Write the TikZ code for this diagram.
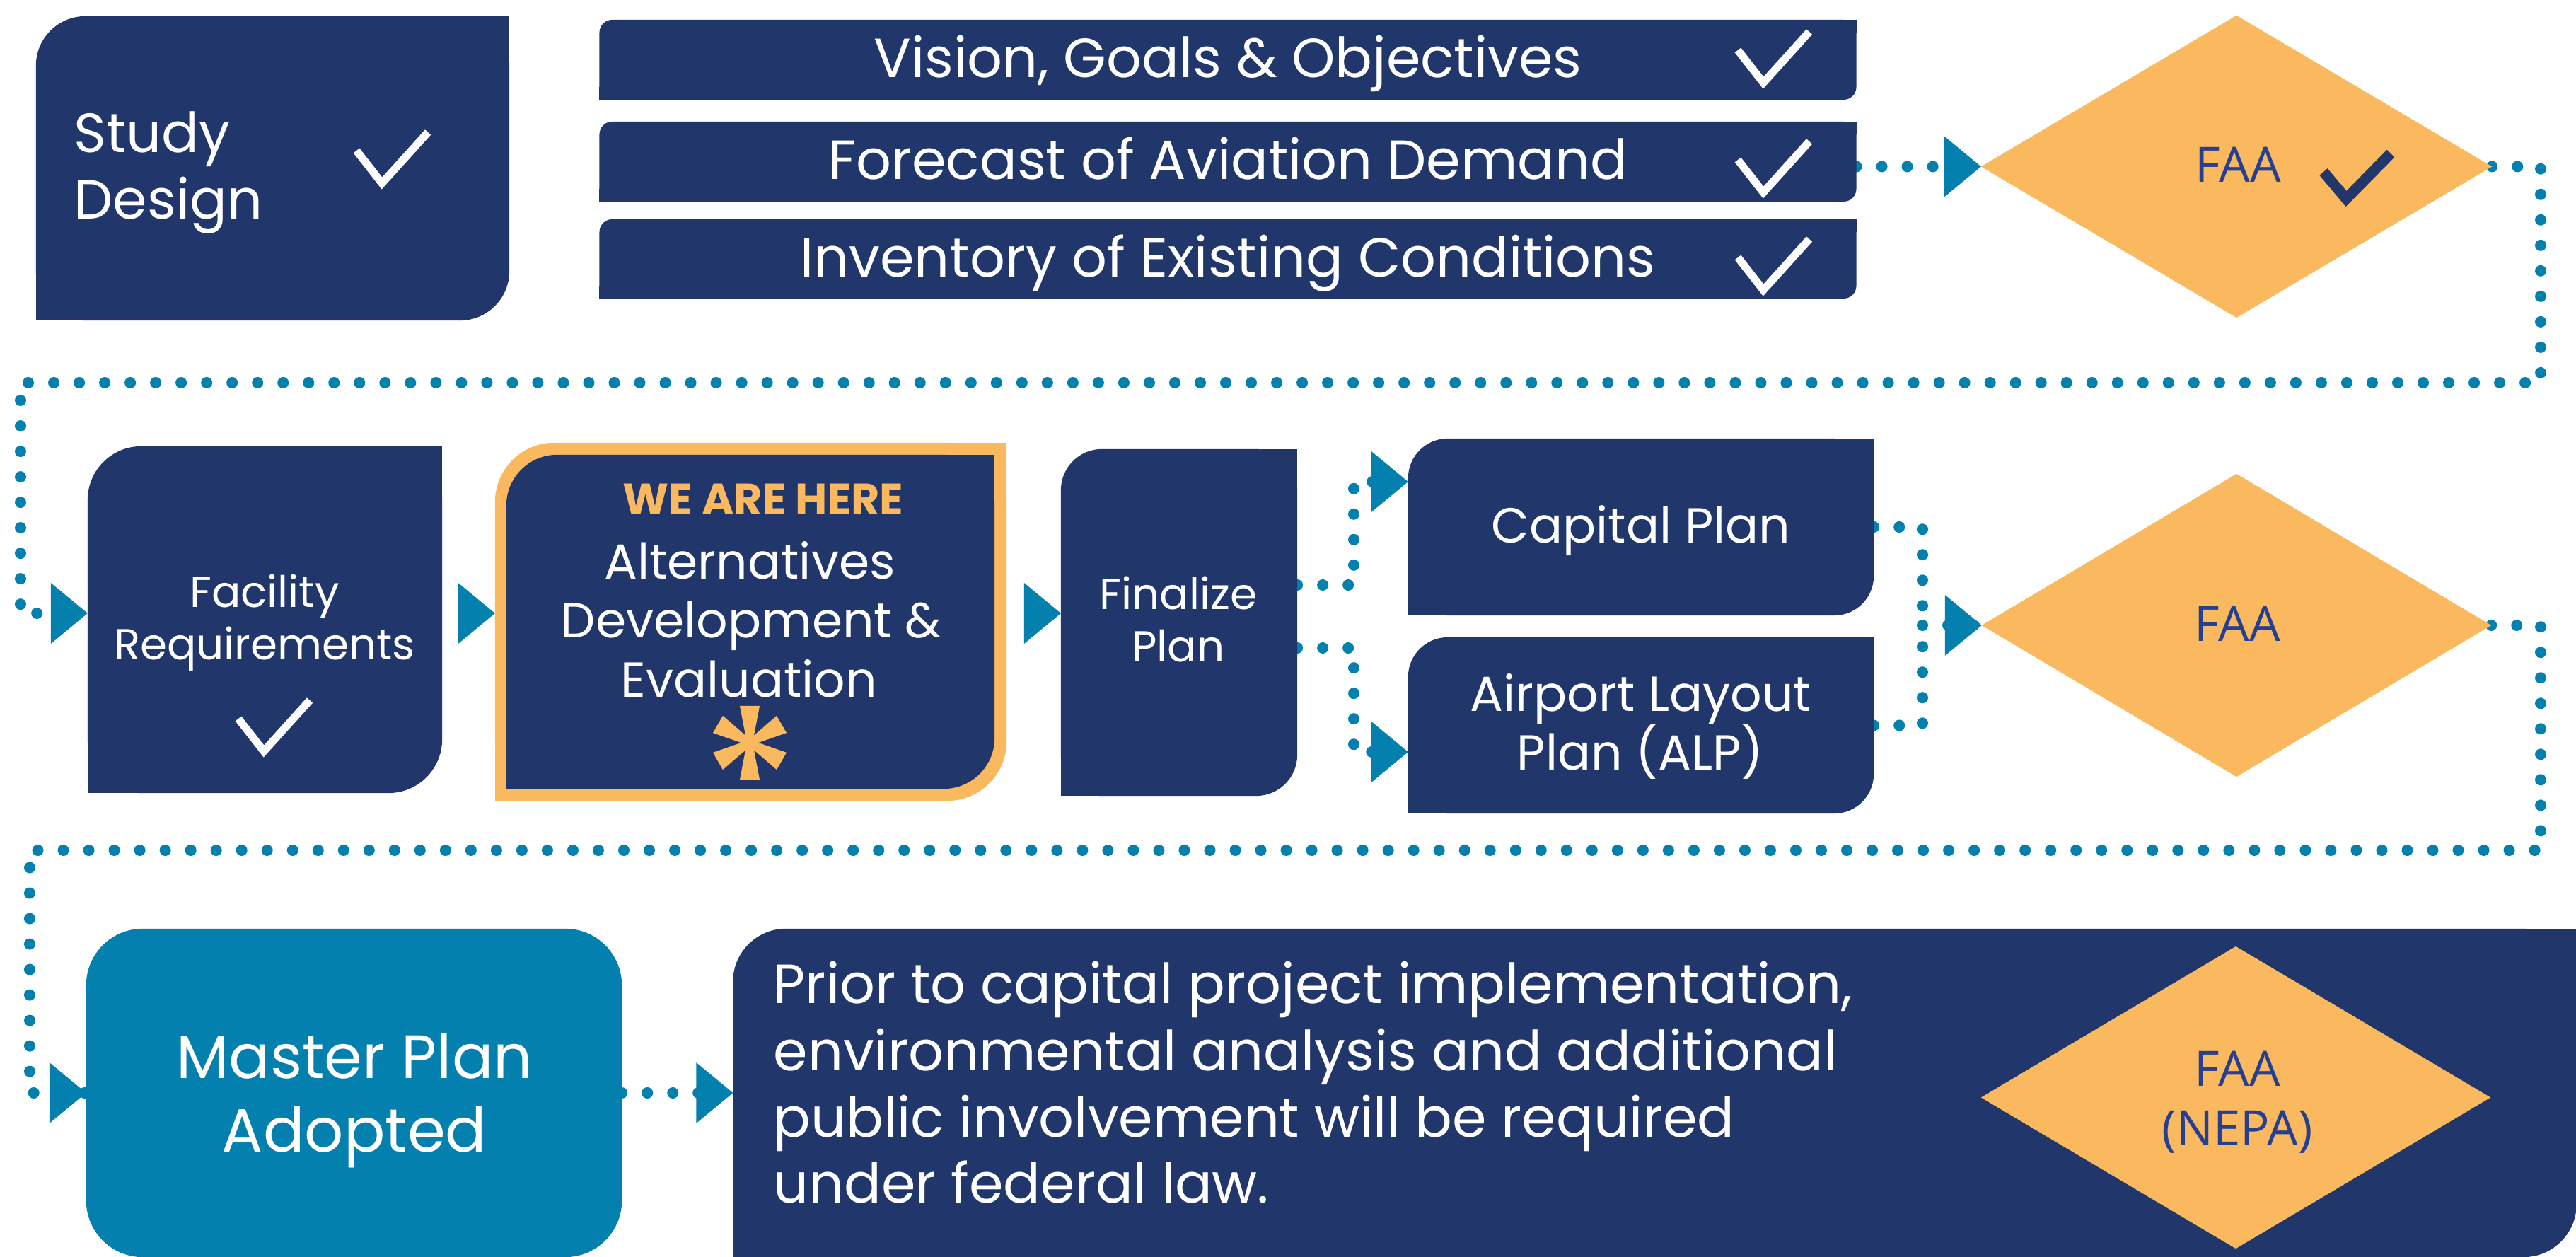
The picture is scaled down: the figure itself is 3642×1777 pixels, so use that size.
\documentclass[tikz,border=0pt]{standalone}
\usepackage{fontspec}
\setmainfont{Poppins}
\newfontfamily\faafont{Open Sans}
\usetikzlibrary{shapes.geometric,backgrounds}
\definecolor{navyc}{RGB}{33,54,107}
\definecolor{orangec}{RGB}{251,185,95}
\definecolor{tealc}{RGB}{3,128,174}
\definecolor{faac}{RGB}{38,64,145}
\newcommand\sqcorners[3]{\fill[#3] (#1.north east) rectangle ++(-#2,#2); \fill[#3] (#1.south west) rectangle ++(#2,-#2);}
\newcommand\tipto[1]{\fill[tealc] (#1) -- ++(-52,43) -- ++(0,-86) -- cycle;}
\begin{document}
\begin{tikzpicture}[x=0.01cm,y=-0.01cm,
  box/.style={fill=navyc, draw=none, inner sep=0pt, outer sep=0pt},
  dia/.style={diamond, fill=orangec, draw=none, inner sep=0pt, outer sep=0pt},
  dotsty/.style={draw=tealc, line width=0.16cm, dash pattern=on 0pt off 0.36cm, line cap=round},
  txt/.style={text=white, inner sep=0pt, anchor=base},
  fbig/.style={font=\fontsize{22.2}{27}\selectfont},
  fmid/.style={font=\fontsize{19.8}{24}\selectfont},
  fsmall/.style={font=\fontsize{17.4}{21}\selectfont},
  fmp/.style={font=\fontsize{24.6}{30}\selectfont},
  ffaa/.style={font=\faafont\fontsize{19.6}{23}\selectfont, text=faac, inner sep=0pt, anchor=base},
  chkw/.pic={\draw[white, line width=0.11cm, line join=miter, line cap=butt] (-36,-46) -- (0,0) -- (65,-72);},
  chkn/.pic={\draw[navyc, line width=0.15cm, line join=miter, line cap=butt] (-32,-38) -- (0,0) -- (63,-64);}
]
\useasboundingbox (0,0) rectangle (3642,1777);
% ---------- row 1
\node[box, rounded corners=0.70cm, minimum width=6.69cm, minimum height=4.30cm] (sd) at (385.5,238) {};
\sqcorners{sd}{70}{navyc}
\node[box, rounded corners=0.18cm, minimum width=17.76cm, minimum height=1.13cm] (bar1) at (1736,84.5) {};
\sqcorners{bar1}{18}{navyc}
\node[box, rounded corners=0.18cm, minimum width=17.76cm, minimum height=1.13cm] (bar2) at (1736,228.5) {};
\sqcorners{bar2}{18}{navyc}
\node[box, rounded corners=0.18cm, minimum width=17.76cm, minimum height=1.12cm] (bar3) at (1736,366) {};
\sqcorners{bar3}{18}{navyc}
\node[dia, minimum width=7.22cm, minimum height=4.27cm] (faa1) at (3162,235.5) {};
% ---------- row 2
\node[box, rounded corners=0.76cm, minimum width=5.01cm, minimum height=4.90cm] (fr) at (374.5,876) {};
\sqcorners{fr}{76}{navyc}
\node[box, fill=orangec, rounded corners=0.84cm, minimum width=7.23cm, minimum height=5.06cm] (alto) at (1061.5,879) {};
\sqcorners{alto}{84}{orangec}
\node[box, rounded corners=0.72cm, minimum width=6.90cm, minimum height=4.72cm] (alt) at (1061,879) {};
\sqcorners{alt}{72}{navyc}
\node[box, rounded corners=0.58cm, minimum width=3.34cm, minimum height=4.90cm] (fin) at (1667,880) {};
\sqcorners{fin}{58}{navyc}
\node[box, rounded corners=0.56cm, minimum width=6.58cm, minimum height=2.50cm] (cap) at (2320,745) {};
\sqcorners{cap}{56}{navyc}
\node[box, rounded corners=0.56cm, minimum width=6.58cm, minimum height=2.49cm] (alp) at (2320,1025.5) {};
\sqcorners{alp}{56}{navyc}
\node[dia, minimum width=7.20cm, minimum height=4.28cm] (faa2) at (3162,884) {};
% ---------- row 3
\node[box, fill=tealc, rounded corners=0.80cm, minimum width=7.57cm, minimum height=4.64cm] (mp) at (500.5,1545) {};
\node[box, rounded corners=0.75cm, minimum width=26.05cm, minimum height=4.64cm] (prior) at (2339.5,1545) {};
\sqcorners{prior}{75}{navyc}
\node[dia, minimum width=7.20cm, minimum height=4.27cm] (faa3) at (3161,1551.5) {};
% ---------- connectors (behind the boxes)
\coordinate (r2) at (0,867);
\coordinate (c1) at (3592,541);
\coordinate (c2) at (29,541);
\coordinate (fa) at (1914,681);
\coordinate (fb) at (1914,1063);
\coordinate (ga) at (2718,884);
\coordinate (d1) at (3592,1202);
\coordinate (d2) at (42,1202);
\begin{scope}[on background layer]
\fill[white] (0,0) rectangle (3642,1777);
\draw[dotsty] (bar2.east |- faa1.west) -- (faa1.west);
\draw[dotsty] (faa1.east) -| (c1) -- (c2) |- (fr.west |- r2);
\draw[dotsty] (fin.east |- 0,827) -| (fa) -- (cap.west |- fa);
\draw[dotsty] (fin.east |- 0,916) -| (fb) -- (alp.west |- fb);
\draw[dotsty] (cap.east) -| (ga);
\draw[dotsty] (alp.east) -| (ga);
\draw[dotsty] (ga) -- (faa2.west);
\draw[dotsty] (faa2.east) -| (d1) -- (d2) |- (mp.west);
\draw[dotsty] (mp.east) -- (prior.west);
\end{scope}
\tipto{faa1.west}
\tipto{fr.west |- r2}
\tipto{alto.west |- r2}
\tipto{fin.west |- r2}
\tipto{cap.west |- fa}
\tipto{alp.west |- fb}
\tipto{faa2.west}
\tipto{mp.west}
\tipto{prior.west}
% ---------- texts
\node[txt, fbig, anchor=base west] (sdt1) at (104,216) {Study};
\node[txt, fbig, anchor=base west] (sdt2) at (104,310) {Design};
\pic at (540,259) {chkw};
\node[txt, fbig] (b1t) at (1736,110) {Vision, Goals \& Objectives};
\node[txt, fbig] (b2t) at (1736,254) {Forecast of Aviation Demand};
\node[txt, fbig] (b3t) at (1736,392) {Inventory of Existing Conditions};
\pic at (2493,117) {chkw};
\pic at (2493,272) {chkw};
\pic at (2493,410) {chkw};
\node[ffaa] (f1t) at (3164,258) {FAA};
\pic at (3317,281) {chkn};
\node[txt, fsmall] (frt1) at (374,859) {Facility};
\node[txt, fsmall] (frt2) at (374,933) {Requirements};
\pic at (373,1062) {chkw};
\node[txt, fsmall, text=orangec, font=\fontsize{17.6}{21}\selectfont\bfseries] (here) at (1079,728) {WE ARE HERE};
\node[txt, fmid] (at1) at (1060,819) {Alternatives};
\node[txt, fmid] (at2) at (1062,902) {Development \&};
\node[txt, fmid] (at3) at (1059,986) {Evaluation};
\foreach \a in {30,90,150,210,270,330}
  \fill[orangec, shift={(1060,1050)}, rotate=\a] (0,-4) -- (52,-14) -- (52,14) -- (0,4) -- cycle;
\node[txt, fsmall] (fnt1) at (1666,862) {Finalize};
\node[txt, fsmall] (fnt2) at (1666,936) {Plan};
\node[txt, fmid] (capt) at (2320,768) {Capital Plan};
\node[txt, fmid] (alpt1) at (2320,1006) {Airport Layout};
\node[txt, fmid] (alpt2) at (2319,1089) {Plan (ALP)};
\node[ffaa] (f2t) at (3163,907) {FAA};
\node[txt, fmp] (mpt1) at (501,1524) {Master Plan};
\node[txt, fmp] (mpt2) at (501,1628) {Adopted};
\node[txt, fbig, anchor=base west] (pr1) at (1093,1419) {Prior to capital project implementation,};
\node[txt, fbig, anchor=base west] (pr2) at (1093,1513) {environmental analysis and additional};
\node[txt, fbig, anchor=base west] (pr3) at (1093,1607) {public involvement will be required};
\node[txt, fbig, anchor=base west] (pr4) at (1093,1700) {under federal law.};
\node[ffaa] (f3t) at (3163,1535) {FAA};
\node[ffaa] (f3u) at (3163,1619) {(NEPA)};
\end{tikzpicture}
\end{document}
